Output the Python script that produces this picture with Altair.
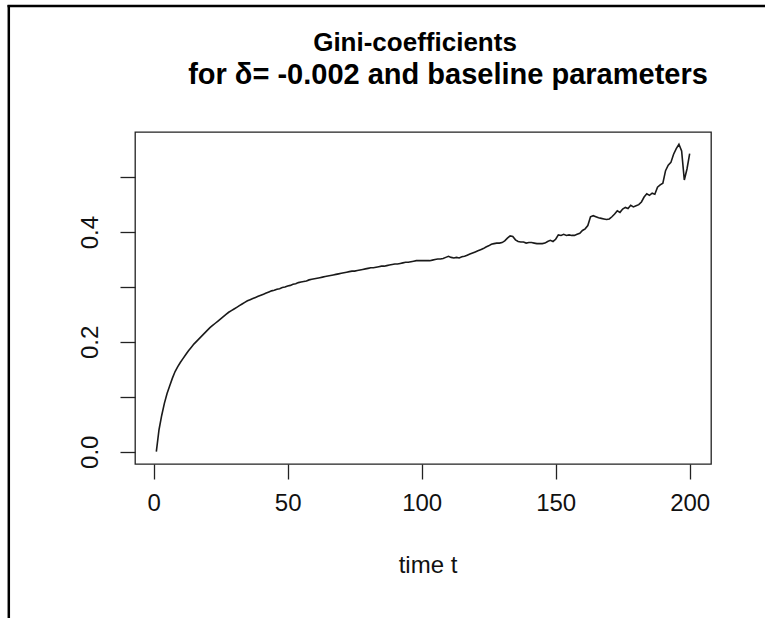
import altair as alt
import pandas as pd

# time steps and Gini values
t_values = list(range(1, 201))
gini = [
    0.000, 0.040, 0.066, 0.088, 0.106, 0.120, 0.134, 0.146, 0.155, 0.163,
    0.170, 0.177, 0.184, 0.190, 0.196, 0.201, 0.206, 0.211, 0.216, 0.221,
    0.226, 0.230, 0.234, 0.238, 0.242, 0.246, 0.250, 0.254, 0.257, 0.260,
    0.263, 0.266, 0.269, 0.272, 0.275, 0.277, 0.279, 0.281, 0.283, 0.285,
    0.287, 0.289, 0.291, 0.293, 0.294, 0.296, 0.297, 0.299, 0.300, 0.302,
    0.303, 0.305, 0.306, 0.308, 0.309, 0.310, 0.311, 0.313, 0.314, 0.315,
    0.316, 0.317, 0.318, 0.319, 0.320, 0.321, 0.322, 0.323, 0.324, 0.325,
    0.326, 0.327, 0.328, 0.329, 0.329, 0.330, 0.331, 0.332, 0.333, 0.334,
    0.335, 0.335, 0.336, 0.337, 0.338, 0.338, 0.339, 0.340, 0.341, 0.342,
    0.342, 0.343, 0.344, 0.345, 0.345, 0.346, 0.347, 0.348, 0.348, 0.348,
    0.348, 0.348, 0.348, 0.349, 0.350, 0.351, 0.351, 0.352, 0.354, 0.356,
    0.354, 0.353, 0.354, 0.353, 0.355, 0.356, 0.358, 0.360, 0.362, 0.364,
    0.366, 0.368, 0.370, 0.373, 0.375, 0.378, 0.379, 0.380, 0.380, 0.381,
    0.384, 0.389, 0.393, 0.392, 0.386, 0.383, 0.382, 0.382, 0.380, 0.381,
    0.381, 0.380, 0.379, 0.379, 0.379, 0.380, 0.383, 0.385, 0.383, 0.387,
    0.395, 0.394, 0.396, 0.394, 0.395, 0.394, 0.394, 0.396, 0.398, 0.403,
    0.406, 0.412, 0.428, 0.430, 0.428, 0.426, 0.425, 0.424, 0.423, 0.424,
    0.428, 0.433, 0.439, 0.436, 0.442, 0.445, 0.443, 0.449, 0.446, 0.448,
    0.450, 0.455, 0.464, 0.470, 0.467, 0.471, 0.469, 0.482, 0.486, 0.489,
    0.512, 0.522, 0.527, 0.542, 0.552, 0.560, 0.548, 0.495, 0.515, 0.543,
]
x_ticks = [0, 50, 100, 150, 200]
y_ticks = [0.0, 0.1, 0.2, 0.3, 0.4, 0.5]
y_labels_shown = ["0.0", "0.2", "0.4"]

title_line1 = "Gini-coefficients"
title_line2 = "for δ= -0.002 and baseline parameters"
x_title = "time t"

df = pd.DataFrame({"t": t_values, "gini": gini})

FONT = "Liberation Sans"
W, H = 576, 332
LEFT, TOP = 135, 132

line = alt.Chart(df).mark_line(color="#1a1a1a", strokeWidth=1.6).encode(
    x=alt.X(
        "t:Q",
        scale=alt.Scale(domain=[-6.96, 207.96], nice=False, zero=False),
        axis=alt.Axis(
            values=x_ticks, title=None, grid=False, domain=False,
            tickSize=15, tickColor="#222", tickWidth=1.3,
            labelFont=FONT, labelFontSize=24, labelColor="#111",
            labelPadding=12, labelFlush=False,
        ),
    ),
    y=alt.Y(
        "gini:Q",
        scale=alt.Scale(domain=[-0.0224, 0.5824], nice=False, zero=False),
        axis=alt.Axis(
            values=y_ticks, title=None, grid=False, domain=False,
            tickSize=15, tickColor="#222", tickWidth=1.3,
            format=".1f",
            labelExpr="indexof(" + str(y_labels_shown) + ", datum.label) >= 0 ? datum.label : ''",
            labelAngle=-90, labelAlign="center", labelBaseline="middle",
            labelPadding=30, labelFont=FONT, labelFontSize=24,
            labelColor="#111", labelFlush=False, labelOverlap=False,
        ),
    ),
)

one = pd.DataFrame({"k": [0]})

t1 = alt.Chart(one).mark_text(font=FONT, fontSize=26, fontWeight="bold",
                              color="#000", align="center", baseline="middle").encode(
    x=alt.value(415 - LEFT), y=alt.value(43 - TOP), text=alt.value(title_line1))
t2 = alt.Chart(one).mark_text(font=FONT, fontSize=29, fontWeight="bold",
                              color="#000", align="center", baseline="middle").encode(
    x=alt.value(448 - LEFT), y=alt.value(75 - TOP), text=alt.value(title_line2))
xt = alt.Chart(one).mark_text(font=FONT, fontSize=24, color="#111",
                              align="center", baseline="middle").encode(
    x=alt.value(428 - LEFT), y=alt.value(566 - TOP), text=alt.value(x_title))

frame_top = alt.Chart(one).mark_rule(color="#000", strokeWidth=2.5).encode(
    x=alt.value(7.5 - LEFT), x2=alt.value(765 - LEFT), y=alt.value(6 - TOP))
frame_left = alt.Chart(one).mark_rule(color="#000", strokeWidth=2.5).encode(
    x=alt.value(8.8 - LEFT), y=alt.value(5 - TOP), y2=alt.value(618 - TOP))

chart = alt.layer(line, t1, t2, xt, frame_top, frame_left).properties(
    width=W, height=H,
    autosize=alt.AutoSizeParams(type="none"),
    padding={"left": LEFT, "top": TOP, "right": 765 - LEFT - W, "bottom": 618 - TOP - H},
    background="white",
).configure_view(stroke="#222", strokeWidth=1.3)

chart.save("out.html", embed_options={"renderer": "svg", "actions": False})
